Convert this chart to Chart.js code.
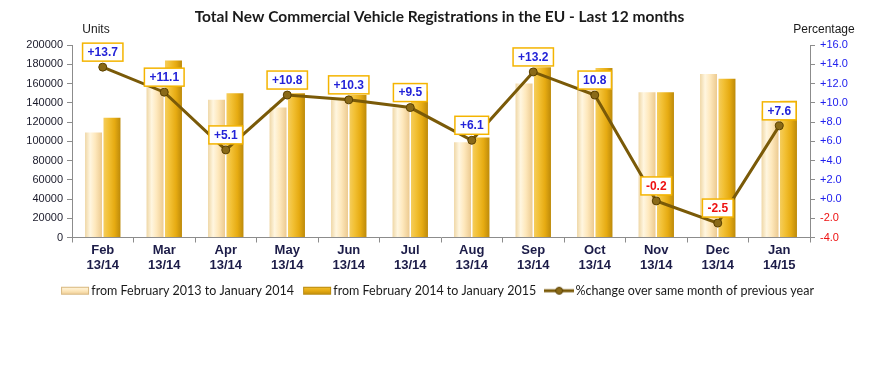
<!DOCTYPE html>
<html>
<head>
<meta charset="utf-8">
<script src="https://cdn.jsdelivr.net/npm/chart.js@4.4.1/dist/chart.umd.min.js"></script>
<style>
  html, body { margin: 0; padding: 0; background: #ffffff; }
  #wrap { width: 879px; height: 366px; position: relative; }
</style>
</head>
<body>
<div id="wrap"><canvas id="c" width="879" height="366"></canvas></div>
<script>
// ---- Data ----
const months = ['Feb','Mar','Apr','May','Jun','Jul','Aug','Sep','Oct','Nov','Dec','Jan'];
const periods = ['13/14','13/14','13/14','13/14','13/14','13/14','13/14','13/14','13/14','13/14','13/14','14/15'];
const prevYear = [109000, 163000, 143000, 135000, 146000, 135000, 99000, 160000, 158000, 151000, 170000, 132000];
const currYear = [124500, 184000, 150000, 150000, 148000, 152000, 104000, 177000, 176000, 151000, 165000, 142000];
const pctChange = [13.7, 11.1, 5.1, 10.8, 10.3, 9.5, 6.1, 13.2, 10.8, -0.2, -2.5, 7.6];
const pctLabels = ['+13.7','+11.1','+5.1','+10.8','+10.3','+9.5','+6.1','+13.2','10.8','-0.2','-2.5','+7.6'];
const leftTicks = [0, 200000, 20000];   // min, max, step
const rightTicks = [-4, 16, 2];         // min, max, step
const seriesNames = ['from February 2013 to January 2014', 'from February 2014 to January 2015', '%change over same month of previous year'];

const labels = months.map((m, i) => [m, periods[i]]);

const CAT_PCT = 0.6, BAR_PCT = 0.92;
const lightStops = [[0,'#efd7a6'],[0.3,'#fff6e0'],[0.6,'#fee8bc'],[1,'#ecca90']];
const darkStops  = [[0,'#f5cd5c'],[0.3,'#f2c034'],[0.65,'#e6ab12'],[1,'#bd8a0a']];

function barFill(stops, sign) {
  return function(ctx) {
    const chart = ctx.chart;
    const xs = chart.scales && chart.scales.x;
    if (!xs || ctx.type !== 'data' || !isFinite(xs.width) || xs.width <= 0) return stops[2][1];
    const catW = xs.width / labels.length;
    const groupW = catW * CAT_PCT;
    const barW = groupW / 2 * BAR_PCT;
    const cx = xs.getPixelForValue(ctx.dataIndex) + sign * groupW / 4;
    const g = chart.ctx.createLinearGradient(cx - barW / 2, 0, cx + barW / 2, 0);
    stops.forEach(s => g.addColorStop(s[0], s[1]));
    return g;
  };
}

function makeIcon(kind) {
  const cv = document.createElement('canvas');
  cv.width = 30; cv.height = 10;
  const c = cv.getContext('2d');
  if (kind === 'line') {
    c.strokeStyle = '#7a5a08'; c.lineWidth = 3;
    c.beginPath(); c.moveTo(0, 5); c.lineTo(30, 5); c.stroke();
    c.fillStyle = '#8a6a18'; c.strokeStyle = '#5a4000'; c.lineWidth = 1;
    c.beginPath(); c.arc(15, 5, 3.5, 0, Math.PI * 2); c.fill(); c.stroke();
  } else {
    const stops = kind === 'light' ? lightStops : darkStops;
    const g = c.createLinearGradient(0, 1, 0, 9);
    g.addColorStop(0, stops[1][1]); g.addColorStop(0.5, stops[2][1]); g.addColorStop(1, stops[3][1]);
    c.fillStyle = g; c.fillRect(1, 1, 28, 8);
    c.strokeStyle = kind === 'light' ? '#d8b880' : '#b88a10'; c.lineWidth = 1;
    c.strokeRect(1.5, 1.5, 27, 7);
  }
  return cv;
}
const icons = [makeIcon('light'), makeIcon('dark'), makeIcon('line')];

const pointLabelPlugin = {
  id: 'pointLabels',
  afterDatasetsDraw(chart) {
    const meta = chart.getDatasetMeta(2);
    const ctx = chart.ctx;
    ctx.save();
    ctx.font = 'bold 12px "Liberation Sans", Arial, sans-serif';
    ctx.textAlign = 'center';
    ctx.textBaseline = 'middle';
    meta.data.forEach((pt, i) => {
      const txt = pctLabels[i];
      const tw = ctx.measureText(txt).width;
      const w = tw + 10, h = 18;
      const bx = pt.x - w / 2, by = pt.y - 6 - h;
      ctx.fillStyle = '#ffffff';
      ctx.fillRect(bx, by, w, h);
      ctx.strokeStyle = '#f4b400';
      ctx.lineWidth = 1.5;
      ctx.strokeRect(bx, by, w, h);
      ctx.fillStyle = pctChange[i] < 0 ? '#ee1111' : '#2323d8';
      ctx.fillText(txt, pt.x, by + h / 2 + 0.5);
    });
    ctx.restore();
  }
};

const axisTitlePlugin = {
  id: 'axisTitles',
  afterDraw(chart) {
    const ctx = chart.ctx, a = chart.chartArea;
    ctx.save();
    ctx.font = '12px "Liberation Sans", Arial, sans-serif';
    ctx.fillStyle = '#1a1a1a';
    ctx.textBaseline = 'middle';
    ctx.textAlign = 'center';
    ctx.fillText('Units', a.left + 24, a.top - 15);
    ctx.fillText('Percentage', a.right + 14, a.top - 15);
    ctx.restore();
  }
};

new Chart(document.getElementById('c'), {
  type: 'bar',
  data: {
    labels: labels,
    datasets: [
      { label: seriesNames[0], data: prevYear, backgroundColor: barFill(lightStops, -1), borderWidth: 0,
        categoryPercentage: CAT_PCT, barPercentage: BAR_PCT, yAxisID: 'y', order: 1 },
      { label: seriesNames[1], data: currYear, backgroundColor: barFill(darkStops, 1), borderWidth: 0,
        categoryPercentage: CAT_PCT, barPercentage: BAR_PCT, yAxisID: 'y', order: 2 },
      { type: 'line', label: seriesNames[2], data: pctChange, yAxisID: 'y1', order: 0,
        borderColor: '#7a5a08', borderWidth: 3, tension: 0,
        pointRadius: 4, pointBackgroundColor: '#8a6a18', pointBorderColor: '#5a4000', pointBorderWidth: 1 }
    ]
  },
  options: {
    responsive: false,
    animation: false,
    devicePixelRatio: 1,
    layout: { padding: { left: 0, right: 0, top: 0, bottom: 59 } },
    plugins: {
      tooltip: { enabled: false },
      title: {
        display: true,
        text: 'Total New Commercial Vehicle Registrations in the EU - Last 12 months',
        color: '#1a1a1a',
        font: { family: 'Lato, "Liberation Sans", Arial, sans-serif', size: 15.5, weight: 'bold', lineHeight: 1.2 },
        padding: { top: 8, bottom: 18.4 }
      },
      legend: {
        position: 'bottom',
        labels: {
          usePointStyle: true,
          pointStyleWidth: 20,
          boxHeight: 10,
          padding: 13,
          color: '#1a1a1a',
          font: { family: 'Lato, "Liberation Sans", Arial, sans-serif', size: 12.5 },
          sort: (a, b) => a.datasetIndex - b.datasetIndex,
          generateLabels: (chart) => {
            const items = Chart.defaults.plugins.legend.labels.generateLabels(chart);
            return items.map(it => Object.assign(it, { pointStyle: icons[it.datasetIndex], lineWidth: 0 }));
          }
        }
      }
    },
    scales: {
      x: {
        grid: { display: true, drawOnChartArea: false, drawTicks: true, tickLength: 5, color: '#8c8c8c', offset: true },
        border: { display: true, color: '#8c8c8c', width: 1 },
        ticks: { color: '#1c1c48', padding: 0, maxRotation: 0, autoSkip: false,
          font: { family: '"Liberation Sans Narrow", "Arial Narrow", Arial, sans-serif', size: 13, weight: 'bold', lineHeight: 1.15 } },
        afterFit: (s) => { s.height = 34; }
      },
      y: {
        position: 'left',
        min: leftTicks[0], max: leftTicks[1],
        grid: { display: true, drawOnChartArea: false, drawTicks: true, tickLength: 5, color: '#8c8c8c' },
        border: { display: true, color: '#8c8c8c', width: 1 },
        ticks: { stepSize: leftTicks[2], color: '#1a1a2a', padding: 4,
          callback: (v) => String(v),
          font: { family: '"Liberation Sans", Arial, sans-serif', size: 11 } },
        afterFit: (s) => { s.width = 72; }
      },
      y1: {
        position: 'right',
        min: rightTicks[0], max: rightTicks[1],
        grid: { display: true, drawOnChartArea: false, drawTicks: true, tickLength: 5, color: '#8c8c8c' },
        border: { display: true, color: '#8c8c8c', width: 1 },
        ticks: { stepSize: rightTicks[2], padding: 5,
          color: (c) => c.tick && c.tick.value < 0 ? '#ee1111' : '#2020ee',
          callback: (v) => (v >= 0 ? '+' : '') + Number(v).toFixed(1),
          font: { family: '"Liberation Sans", Arial, sans-serif', size: 11 } },
        afterFit: (s) => { s.width = 69; }
      }
    }
  },
  plugins: [pointLabelPlugin, axisTitlePlugin]
});
</script>
</body>
</html>
